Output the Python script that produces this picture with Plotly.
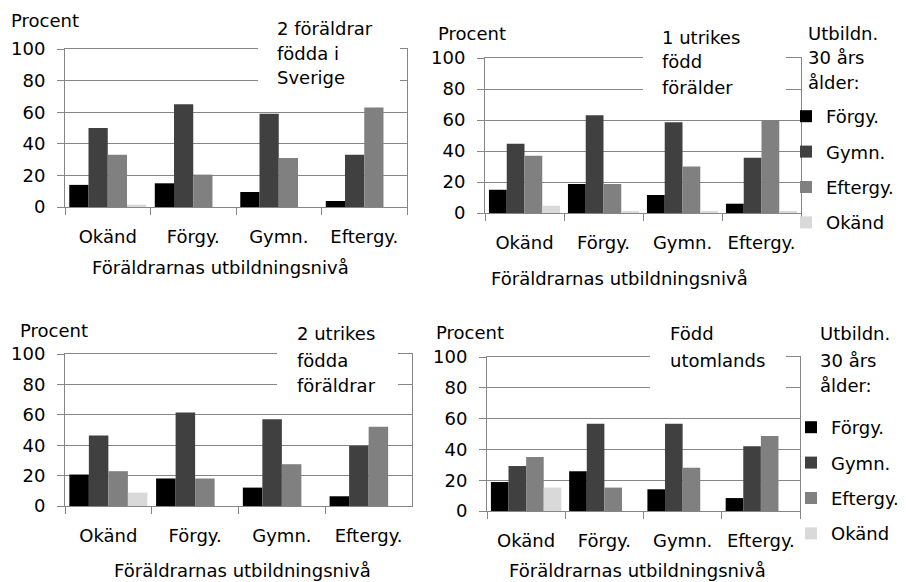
import plotly.graph_objects as go

W, H = 906, 582

categories = ["Okänd", "Förgy.", "Gymn.", "Eftergy."]
series_names = ["Förgy.", "Gymn.", "Eftergy.", "Okänd"]
series_colors = ["#000000", "#404040", "#808080", "#d9d9d9"]

# Panel 1: 2 föräldrar födda i Sverige
p1_forgy = [14, 15, 9.5, 3.8]
p1_gymn = [50, 65, 59, 33]
p1_efter = [33, 20.5, 31, 63]
p1_okand = [1.5, 0, 0, 0]

# Panel 2: 1 utrikes född förälder
p2_forgy = [15, 18.7, 11.6, 6]
p2_gymn = [44.7, 63, 58.5, 35.7]
p2_efter = [37, 18.7, 30, 60]
p2_okand = [4.7, 1.3, 1.3, 1.3]

# Panel 3: 2 utrikes födda föräldrar
p3_forgy = [20.7, 18.1, 12.1, 6.4]
p3_gymn = [46.3, 61.5, 57, 39.6]
p3_efter = [22.9, 18.1, 27.5, 52.2]
p3_okand = [8.8, 0, 0, 0]

# Panel 4: Född utomlands
p4_forgy = [18.8, 25.8, 14.1, 8.4]
p4_gymn = [29.2, 56.7, 56.7, 42]
p4_efter = [35, 15.2, 28.1, 48.7]
p4_okand = [15.2, 0, 0, 0]

panel_titles = [
    ["2 föräldrar", "födda i", "Sverige"],
    ["1 utrikes", "född", "förälder"],
    ["2 utrikes", "födda", "föräldrar"],
    ["Född", "utomlands"],
]
y_title = "Procent"
x_title = "Föräldrarnas utbildningsnivå"
legend_title_lines = ["Utbildn.", "30 års", "ålder:"]
y_ticks = [0, 20, 40, 60, 80, 100]

panels = [
    [p1_forgy, p1_gymn, p1_efter, p1_okand],
    [p2_forgy, p2_gymn, p2_efter, p2_okand],
    [p3_forgy, p3_gymn, p3_efter, p3_okand],
    [p4_forgy, p4_gymn, p4_efter, p4_okand],
]

FONT = "DejaVu Sans"
FS = 18
GRID = "#868686"


def px(x):
    return x / W


def py(y):
    return 1 - y / H


# plot areas in pixels: (left, right, top, bottom)
areas = [(65, 407, 49, 207), (485, 801, 58, 213), (65, 412, 354, 506), (487, 800, 357, 511)]
legend_for = {1: "legend", 3: "legend2"}

fig = go.Figure()
for i, (vals, area) in enumerate(zip(panels, areas)):
    xa = "x" if i == 0 else f"x{i+1}"
    ya = "y" if i == 0 else f"y{i+1}"
    for name, color, v in zip(series_names, series_colors, vals):
        show = i in legend_for
        fig.add_trace(go.Bar(
            x=categories, y=v, name=name, marker=dict(color=color, line=dict(width=0)),
            xaxis=xa, yaxis=ya, showlegend=show,
            legend=legend_for.get(i, "legend"), legendgroup=f"{i}-{name}",
        ))
    l, r, t, b = area
    xk = "xaxis" if i == 0 else f"xaxis{i+1}"
    yk = "yaxis" if i == 0 else f"yaxis{i+1}"
    fig.layout[xk] = dict(
        domain=[px(l), px(r)], anchor=ya, type="category",
        showline=True, linecolor=GRID, linewidth=1, mirror=True,
        ticks="outside", ticklen=7, tickcolor=GRID, tickson="boundaries",
        tickfont=dict(family=FONT, size=FS, color="#000"), ticklabelstandoff=13,
        showgrid=False, fixedrange=True, automargin=False,
    )
    fig.layout[yk] = dict(
        domain=[py(b), py(t)], anchor=xa, range=[0, 100], tickvals=y_ticks,
        showline=True, linecolor=GRID, linewidth=1, mirror=True,
        ticks="outside", ticklen=7, tickcolor=GRID,
        showgrid=True, gridcolor=GRID, gridwidth=1, zeroline=False,
        tickfont=dict(family=FONT, size=FS, color="#000"), ticklabelstandoff=8,
        fixedrange=True, automargin=False,
    )

annotations = []
shapes = []

def text(x, y, s, xanchor="left"):
    annotations.append(dict(x=px(x), y=py(y), xref="paper", yref="paper", text=s,
                            showarrow=False, xanchor=xanchor, yanchor="middle",
                            font=dict(family=FONT, size=FS, color="#000")))

# "Procent"
for (x, y) in [(9, 21), (436, 33), (18, 330), (434, 332)]:
    text(x, y, y_title)

# x-axis titles
for (x, y) in [(220, 268), (619, 278), (243, 570), (637, 570)]:
    text(x, y, x_title, xanchor="center")

# panel title boxes
boxes = [(258, 400, 14, 96), (643, 786, 20, 102), (277, 398, 318, 397), (650, 786, 318, 400)]
title_pos = [(275, [28, 53, 78]), (660, [37, 62, 87]), (295, [333, 360, 385]), (668, [333, 360])]
for (x0, x1, y0, y1), (tx, tys), lines in zip(boxes, title_pos, panel_titles):
    shapes.append(dict(type="rect", xref="paper", yref="paper", x0=px(x0), x1=px(x1),
                       y0=py(y1), y1=py(y0), fillcolor="white", line=dict(width=0), layer="above"))
    for ty, s in zip(tys, lines):
        text(tx, ty, s)

# legend titles
for (x, ys) in [(806, [33, 58, 83]), (818, [333, 360, 385])]:
    for y, s in zip(ys, legend_title_lines):
        text(x, y, s)

leg_common = dict(xanchor="left", yanchor="top", bgcolor="rgba(0,0,0,0)",
                  xref="container", yref="container",
                  font=dict(family=FONT, size=FS, color="#000"),
                  tracegroupgap=9, itemclick=False, itemdoubleclick=False)

fig.update_layout(
    width=W, height=H, margin=dict(l=0, r=0, t=0, b=0, pad=0, autoexpand=False),
    paper_bgcolor="white", plot_bgcolor="white",
    barmode="group", bargap=0.1, bargroupgap=0,
    font=dict(family=FONT, size=FS, color="#000"),
    annotations=annotations, shapes=shapes,
    legend=dict(x=px(786), y=py(98), **leg_common),
    legend2=dict(x=px(791), y=py(409), **leg_common),
)

fig.write_html("out.html", config={"displayModeBar": False},
               post_script="document.body.style.margin='0';document.body.style.padding='0';")
